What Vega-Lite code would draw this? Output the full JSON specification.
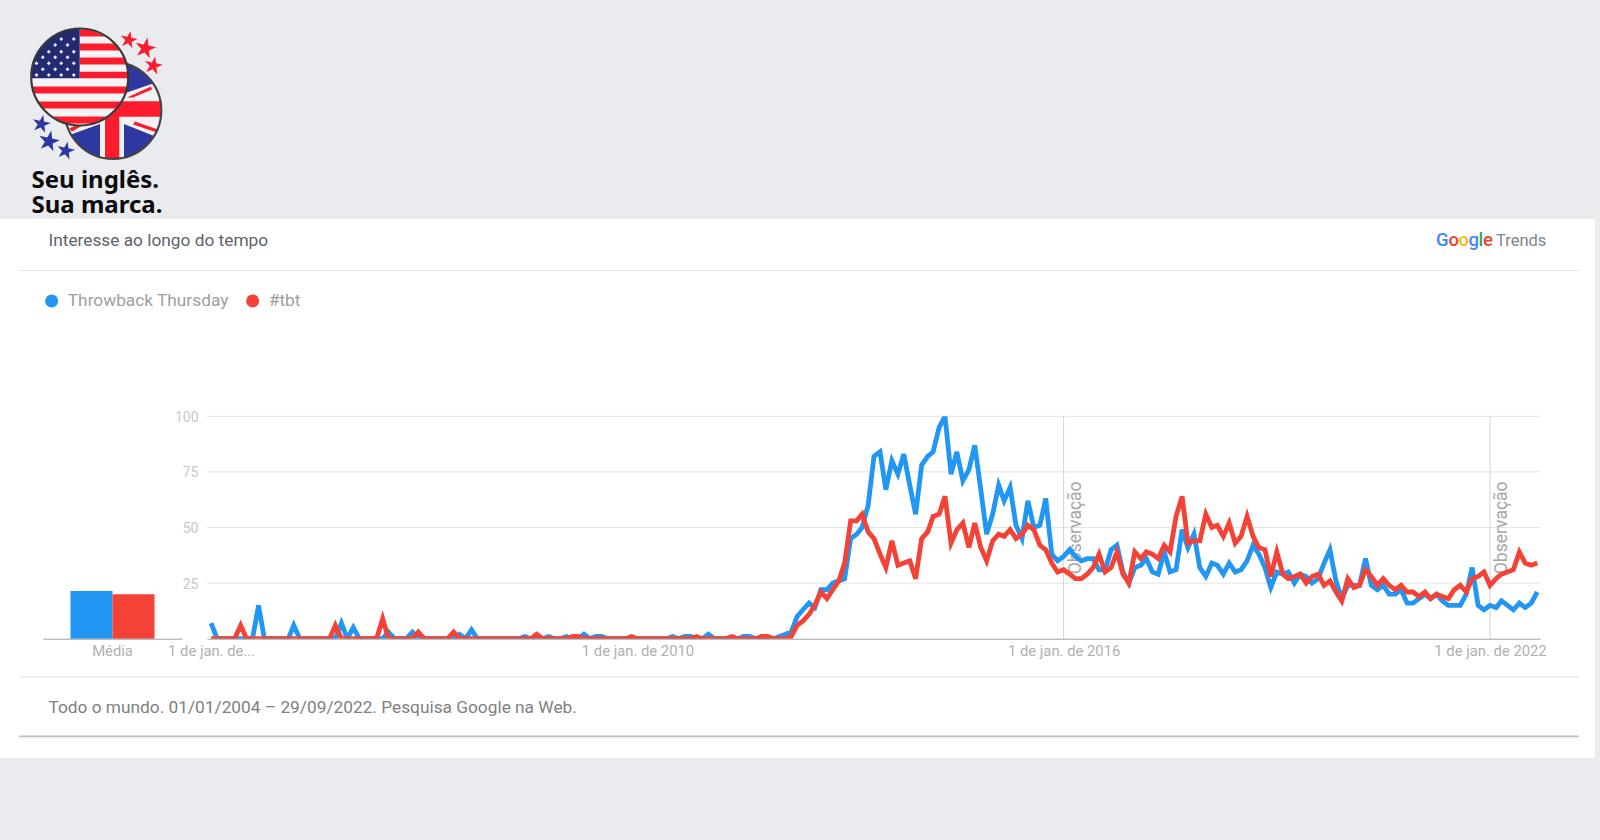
{"$schema":"https://vega.github.io/schema/vega-lite/v6.json","width":1333,"height":222.4,"autosize":{"type":"none"},"padding":{"left":207,"top":416.3,"right":60,"bottom":201.3},"background":"#e9ebef","config":{"view":{"stroke":null},"font":"Roboto"},"datasets":{"trends":[
{"d":"2004-01-01","a":7,"b":0},{"d":"2004-02-01","a":0,"b":0},{"d":"2004-03-01","a":0,"b":0},{"d":"2004-04-01","a":0,"b":0},{"d":"2004-05-01","a":0,"b":0},{"d":"2004-06-01","a":0,"b":6},{"d":"2004-07-01","a":0,"b":0},{"d":"2004-08-01","a":0,"b":0},{"d":"2004-09-01","a":15,"b":0},{"d":"2004-10-01","a":0,"b":0},{"d":"2004-11-01","a":0,"b":0},{"d":"2004-12-01","a":0,"b":0},
{"d":"2005-01-01","a":0,"b":0},{"d":"2005-02-01","a":0,"b":0},{"d":"2005-03-01","a":6,"b":0},{"d":"2005-04-01","a":0,"b":0},{"d":"2005-05-01","a":0,"b":0},{"d":"2005-06-01","a":0,"b":0},{"d":"2005-07-01","a":0,"b":0},{"d":"2005-08-01","a":0,"b":0},{"d":"2005-09-01","a":0,"b":0},{"d":"2005-10-01","a":0,"b":6},{"d":"2005-11-01","a":7,"b":0},{"d":"2005-12-01","a":0,"b":0},
{"d":"2006-01-01","a":5,"b":0},{"d":"2006-02-01","a":0,"b":0},{"d":"2006-03-01","a":0,"b":0},{"d":"2006-04-01","a":0,"b":0},{"d":"2006-05-01","a":0,"b":0},{"d":"2006-06-01","a":0,"b":9},{"d":"2006-07-01","a":3,"b":0},{"d":"2006-08-01","a":0,"b":0},{"d":"2006-09-01","a":0,"b":0},{"d":"2006-10-01","a":0,"b":0},{"d":"2006-11-01","a":3,"b":0},{"d":"2006-12-01","a":0,"b":3},
{"d":"2007-01-01","a":0,"b":0},{"d":"2007-02-01","a":0,"b":0},{"d":"2007-03-01","a":0,"b":0},{"d":"2007-04-01","a":0,"b":0},{"d":"2007-05-01","a":0,"b":0},{"d":"2007-06-01","a":0,"b":3},{"d":"2007-07-01","a":2,"b":0},{"d":"2007-08-01","a":0,"b":0},{"d":"2007-09-01","a":4,"b":0},{"d":"2007-10-01","a":0,"b":0},{"d":"2007-11-01","a":0,"b":0},{"d":"2007-12-01","a":0,"b":0},
{"d":"2008-01-01","a":0,"b":0},{"d":"2008-02-01","a":0,"b":0},{"d":"2008-03-01","a":0,"b":0},{"d":"2008-04-01","a":0,"b":0},{"d":"2008-05-01","a":0,"b":0},{"d":"2008-06-01","a":1,"b":0},{"d":"2008-07-01","a":0,"b":0},{"d":"2008-08-01","a":0,"b":2},{"d":"2008-09-01","a":0,"b":0},{"d":"2008-10-01","a":1,"b":0},{"d":"2008-11-01","a":0,"b":0},{"d":"2008-12-01","a":0,"b":0},
{"d":"2009-01-01","a":1,"b":0},{"d":"2009-02-01","a":0,"b":1},{"d":"2009-03-01","a":0,"b":1},{"d":"2009-04-01","a":2,"b":0},{"d":"2009-05-01","a":0,"b":0},{"d":"2009-06-01","a":1,"b":0},{"d":"2009-07-01","a":1,"b":0},{"d":"2009-08-01","a":0,"b":0},{"d":"2009-09-01","a":0,"b":0},{"d":"2009-10-01","a":0,"b":0},{"d":"2009-11-01","a":0,"b":0},{"d":"2009-12-01","a":0,"b":1},
{"d":"2010-01-01","a":0,"b":0},{"d":"2010-02-01","a":0,"b":0},{"d":"2010-03-01","a":0,"b":0},{"d":"2010-04-01","a":0,"b":0},{"d":"2010-05-01","a":0,"b":0},{"d":"2010-06-01","a":0,"b":0},{"d":"2010-07-01","a":1,"b":0},{"d":"2010-08-01","a":0,"b":0},{"d":"2010-09-01","a":1,"b":0},{"d":"2010-10-01","a":1,"b":0},{"d":"2010-11-01","a":0,"b":1},{"d":"2010-12-01","a":0,"b":0},
{"d":"2011-01-01","a":2,"b":0},{"d":"2011-02-01","a":0,"b":0},{"d":"2011-03-01","a":0,"b":0},{"d":"2011-04-01","a":0,"b":0},{"d":"2011-05-01","a":0,"b":1},{"d":"2011-06-01","a":0,"b":0},{"d":"2011-07-01","a":1,"b":0},{"d":"2011-08-01","a":1,"b":0},{"d":"2011-09-01","a":0,"b":0},{"d":"2011-10-01","a":0,"b":1},{"d":"2011-11-01","a":0,"b":1},{"d":"2011-12-01","a":0,"b":0},
{"d":"2012-01-01","a":1,"b":0},{"d":"2012-02-01","a":2,"b":0},{"d":"2012-03-01","a":3,"b":1},{"d":"2012-04-01","a":10,"b":6},{"d":"2012-05-01","a":13,"b":8},{"d":"2012-06-01","a":16,"b":11},{"d":"2012-07-01","a":14,"b":15},{"d":"2012-08-01","a":22,"b":21},{"d":"2012-09-01","a":22,"b":18},{"d":"2012-10-01","a":25,"b":22},{"d":"2012-11-01","a":26,"b":26},{"d":"2012-12-01","a":27,"b":34},
{"d":"2013-01-01","a":45,"b":53},{"d":"2013-02-01","a":47,"b":53},{"d":"2013-03-01","a":50,"b":56},{"d":"2013-04-01","a":60,"b":48},{"d":"2013-05-01","a":82,"b":45},{"d":"2013-06-01","a":84,"b":38},{"d":"2013-07-01","a":67,"b":32},{"d":"2013-08-01","a":80,"b":44},{"d":"2013-09-01","a":74,"b":33},{"d":"2013-10-01","a":83,"b":34},{"d":"2013-11-01","a":69,"b":35},{"d":"2013-12-01","a":56,"b":27},
{"d":"2014-01-01","a":78,"b":45},{"d":"2014-02-01","a":82,"b":48},{"d":"2014-03-01","a":84,"b":55},{"d":"2014-04-01","a":95,"b":56},{"d":"2014-05-01","a":100,"b":64},{"d":"2014-06-01","a":74,"b":43},{"d":"2014-07-01","a":84,"b":49},{"d":"2014-08-01","a":71,"b":52},{"d":"2014-09-01","a":76,"b":41},{"d":"2014-10-01","a":87,"b":52},{"d":"2014-11-01","a":67,"b":41},{"d":"2014-12-01","a":47,"b":35},
{"d":"2015-01-01","a":56,"b":44},{"d":"2015-02-01","a":69,"b":47},{"d":"2015-03-01","a":62,"b":46},{"d":"2015-04-01","a":68,"b":49},{"d":"2015-05-01","a":51,"b":45},{"d":"2015-06-01","a":45,"b":47},{"d":"2015-07-01","a":62,"b":51},{"d":"2015-08-01","a":50,"b":49},{"d":"2015-09-01","a":51,"b":42},{"d":"2015-10-01","a":63,"b":40},{"d":"2015-11-01","a":38,"b":34},{"d":"2015-12-01","a":35,"b":30},
{"d":"2016-01-01","a":37,"b":31},{"d":"2016-02-01","a":40,"b":29},{"d":"2016-03-01","a":37,"b":27},{"d":"2016-04-01","a":35,"b":27},{"d":"2016-05-01","a":36,"b":29},{"d":"2016-06-01","a":36,"b":32},{"d":"2016-07-01","a":31,"b":38},{"d":"2016-08-01","a":31,"b":30},{"d":"2016-09-01","a":40,"b":32},{"d":"2016-10-01","a":42,"b":39},{"d":"2016-11-01","a":30,"b":29},{"d":"2016-12-01","a":25,"b":25},
{"d":"2017-01-01","a":32,"b":39},{"d":"2017-02-01","a":33,"b":36},{"d":"2017-03-01","a":36,"b":39},{"d":"2017-04-01","a":30,"b":38},{"d":"2017-05-01","a":29,"b":36},{"d":"2017-06-01","a":39,"b":42},{"d":"2017-07-01","a":30,"b":39},{"d":"2017-08-01","a":31,"b":55},{"d":"2017-09-01","a":49,"b":64},{"d":"2017-10-01","a":41,"b":43},{"d":"2017-11-01","a":47,"b":44},{"d":"2017-12-01","a":32,"b":44},
{"d":"2018-01-01","a":28,"b":56},{"d":"2018-02-01","a":34,"b":50},{"d":"2018-03-01","a":33,"b":51},{"d":"2018-04-01","a":29,"b":46},{"d":"2018-05-01","a":34,"b":52},{"d":"2018-06-01","a":30,"b":43},{"d":"2018-07-01","a":31,"b":46},{"d":"2018-08-01","a":35,"b":55},{"d":"2018-09-01","a":42,"b":46},{"d":"2018-10-01","a":38,"b":41},{"d":"2018-11-01","a":32,"b":40},{"d":"2018-12-01","a":23,"b":28},
{"d":"2019-01-01","a":30,"b":39},{"d":"2019-02-01","a":29,"b":29},{"d":"2019-03-01","a":30,"b":27},{"d":"2019-04-01","a":25,"b":28},{"d":"2019-05-01","a":29,"b":29},{"d":"2019-06-01","a":28,"b":25},{"d":"2019-07-01","a":25,"b":28},{"d":"2019-08-01","a":27,"b":29},{"d":"2019-09-01","a":34,"b":24},{"d":"2019-10-01","a":40,"b":26},{"d":"2019-11-01","a":26,"b":21},{"d":"2019-12-01","a":18,"b":17},
{"d":"2020-01-01","a":24,"b":27},{"d":"2020-02-01","a":24,"b":23},{"d":"2020-03-01","a":24,"b":24},{"d":"2020-04-01","a":36,"b":31},{"d":"2020-05-01","a":24,"b":28},{"d":"2020-06-01","a":22,"b":24},{"d":"2020-07-01","a":24,"b":27},{"d":"2020-08-01","a":20,"b":24},{"d":"2020-09-01","a":20,"b":22},{"d":"2020-10-01","a":22,"b":24},{"d":"2020-11-01","a":16,"b":21},{"d":"2020-12-01","a":16,"b":21},
{"d":"2021-01-01","a":18,"b":19},{"d":"2021-02-01","a":20,"b":21},{"d":"2021-03-01","a":18,"b":18},{"d":"2021-04-01","a":20,"b":20},{"d":"2021-05-01","a":17,"b":19},{"d":"2021-06-01","a":15,"b":18},{"d":"2021-07-01","a":15,"b":22},{"d":"2021-08-01","a":15,"b":24},{"d":"2021-09-01","a":20,"b":21},{"d":"2021-10-01","a":32,"b":27},{"d":"2021-11-01","a":15,"b":28},{"d":"2021-12-01","a":13,"b":30},
{"d":"2022-01-01","a":15,"b":24},{"d":"2022-02-01","a":14,"b":27},{"d":"2022-03-01","a":17,"b":29},{"d":"2022-04-01","a":15,"b":30},{"d":"2022-05-01","a":13,"b":31},{"d":"2022-06-01","a":16,"b":39},{"d":"2022-07-01","a":14,"b":34},{"d":"2022-08-01","a":16,"b":33},{"d":"2022-09-01","a":21,"b":34}
]},"layer":[
{"data":{"values":[{"k":"panel"}]},"mark":{"type":"rect","color":"#ffffff"},"encoding":{"x":{"value":-207},"x2":{"value":1388},"y":{"value":-197.3},"y2":{"value":341.5}}},
{"data":{"values":[{"k":"line"}]},"mark":{"type":"rule","color":"#e4e4e4","strokeWidth":1},"encoding":{"x":{"value":-188},"x2":{"value":1372},"y":{"value":-145.8}}},
{"data":{"values":[{"k":"line"}]},"mark":{"type":"rule","color":"#ececec","strokeWidth":1.5},"encoding":{"x":{"value":-188},"x2":{"value":1372},"y":{"value":260.5}}},
{"data":{"values":[{"k":"line"}]},"mark":{"type":"rule","color":"#efefef","strokeWidth":2},"encoding":{"x":{"value":-188},"x2":{"value":1372},"y":{"value":321.5}}},
{"data":{"values":[{"k":"line"}]},"mark":{"type":"rule","color":"#bdbdbd","strokeWidth":1.5},"encoding":{"x":{"value":-188},"x2":{"value":1372},"y":{"value":320}}},
{"data":{"values":[{"t":"Interesse ao longo do tempo"}]},"mark":{"type":"text","align":"left","baseline":"alphabetic","font":"Roboto","fontSize":17.3,"color":"#5f6368"},"encoding":{"text":{"field":"t"},"x":{"value":-158.5},"y":{"value":-170.5}}},
{"data":{"values":[{"t":"Todo o mundo. 01/01/2004 – 29/09/2022. Pesquisa Google na Web."}]},"mark":{"type":"text","align":"left","baseline":"alphabetic","font":"Roboto","fontSize":17.3,"color":"#808080"},"encoding":{"text":{"field":"t"},"x":{"value":-158.5},"y":{"value":297}}},
{"data":{"values":[{"t":"G"}]},"mark":{"type":"text","align":"left","baseline":"alphabetic","font":"Roboto","fontSize":18.5,"fontWeight":500,"color":"#4285f4"},"encoding":{"text":{"field":"t"},"x":{"value":1229},"y":{"value":-170.3}}},
{"data":{"values":[{"t":"o"}]},"mark":{"type":"text","align":"left","baseline":"alphabetic","font":"Roboto","fontSize":18.5,"fontWeight":500,"color":"#ea4335"},"encoding":{"text":{"field":"t"},"x":{"value":1241.5},"y":{"value":-170.3}}},
{"data":{"values":[{"t":"o"}]},"mark":{"type":"text","align":"left","baseline":"alphabetic","font":"Roboto","fontSize":18.5,"fontWeight":500,"color":"#fbbc05"},"encoding":{"text":{"field":"t"},"x":{"value":1251.5},"y":{"value":-170.3}}},
{"data":{"values":[{"t":"g"}]},"mark":{"type":"text","align":"left","baseline":"alphabetic","font":"Roboto","fontSize":18.5,"fontWeight":500,"color":"#4285f4"},"encoding":{"text":{"field":"t"},"x":{"value":1261.5},"y":{"value":-170.3}}},
{"data":{"values":[{"t":"l"}]},"mark":{"type":"text","align":"left","baseline":"alphabetic","font":"Roboto","fontSize":18.5,"fontWeight":500,"color":"#34a853"},"encoding":{"text":{"field":"t"},"x":{"value":1271.5},"y":{"value":-170.3}}},
{"data":{"values":[{"t":"e"}]},"mark":{"type":"text","align":"left","baseline":"alphabetic","font":"Roboto","fontSize":18.5,"fontWeight":500,"color":"#ea4335"},"encoding":{"text":{"field":"t"},"x":{"value":1276},"y":{"value":-170.3}}},
{"data":{"values":[{"t":"Trends"}]},"mark":{"type":"text","align":"left","baseline":"alphabetic","font":"Roboto","fontSize":16.5,"color":"#80868b"},"encoding":{"text":{"field":"t"},"x":{"value":1289},"y":{"value":-170.3}}},
{"data":{"values":[{"k":"disc"}]},"mark":{"type":"point","shape":"circle","size":9332,"filled":true,"color":"#f2f2f5","opacity":1},"encoding":{"x":{"value":-94},"y":{"value":-305.8}}},
{"data":{"values":[{"k":"uk"}]},"mark":{"type":"point","shape":"M11,13.5L11,47A48.3,48.3 0 0 0 41,25.5ZM-13,13.5L-13,46.5A48.3,48.3 0 0 1 -42,24ZM11,-17L40,-27A48.3,48.3 0 0 0 11,-47Z","size":4,"filled":true,"color":"#2f37a0","opacity":1},"encoding":{"x":{"value":-94},"y":{"value":-305.8}}},
{"data":{"values":[{"k":"uk"}]},"mark":{"type":"point","shape":"M-8,-47.6L6.3,-47.8L6.3,-9.3L47.4,-9.3L47.9,6.3L6.3,6.3L6.3,47.9L-8,47.6L-8,6.3L-47.9,6.3L-47.4,-9.3L-8,-9.3ZM22,11L45,19L44,22L20,14ZM14,-13L38,-24L39,-21L20,-13ZM-27,13L-41,21L-44,18L-33,13Z","size":4,"filled":true,"color":"#fb1c2d","opacity":1},"encoding":{"x":{"value":-94},"y":{"value":-305.8}}},
{"data":{"values":[{"k":"ring"}]},"mark":{"type":"point","shape":"circle","size":9332,"filled":false,"color":"#444444","strokeWidth":2.2,"opacity":1},"encoding":{"x":{"value":-94},"y":{"value":-305.8}}},
{"data":{"values":[{"k":"disc"}]},"mark":{"type":"point","shape":"circle","size":9409,"filled":true,"color":"#f4f4f6","opacity":1},"encoding":{"x":{"value":-127.3},"y":{"value":-339.3}}},
{"data":{"values":[{"k":"us"}]},"mark":{"type":"point","shape":"M0,-47.6L9.3,-47.6L26.8,-40.4L0,-40.4ZM0,-33.6L35,-33.6L40.7,-26.4L0,-26.4ZM0,-19.6L44.4,-19.6L46.9,-12.4L0,-12.4ZM0,-5.3L48.2,-5.3L48.45,1.3L0,1.3ZM-47.6,9.4L47.6,9.4L45.6,16.6L-45.6,16.6ZM-41.9,24.4L41.9,24.4L36.8,31.6L-36.8,31.6ZM-28.3,39.4L28.3,39.4L13.4,46.6L-13.4,46.6Z","size":4,"filled":true,"color":"#fb1c2d","opacity":1},"encoding":{"x":{"value":-127.3},"y":{"value":-339.3}}},
{"data":{"values":[{"k":"us"}]},"mark":{"type":"point","shape":"M0,-48.5L0,1.3L-48.48,1.3A48.5,48.5 0 0 1 0,-48.5Z","size":4,"filled":true,"color":"#232a70","opacity":1},"encoding":{"x":{"value":-127.3},"y":{"value":-339.3}}},
{"data":{"values":[{"k":"us"}]},"mark":{"type":"point","shape":"M-5.9,-40l2,2l-2,2l-2,-2zM-18.5,-40l2,2l-2,2l-2,-2zM-12.2,-34l2,2l-2,2l-2,-2zM-24.5,-34l2,2l-2,2l-2,-2zM-5.9,-27.3l2,2l-2,2l-2,-2zM-18.5,-27.3l2,2l-2,2l-2,-2zM-30.9,-27.3l2,2l-2,2l-2,-2zM-12.2,-21.7l2,2l-2,2l-2,-2zM-24.5,-21.7l2,2l-2,2l-2,-2zM-36.9,-21.7l2,2l-2,2l-2,-2zM-5.9,-15.7l2,2l-2,2l-2,-2zM-18.5,-15.7l2,2l-2,2l-2,-2zM-30.9,-15.7l2,2l-2,2l-2,-2zM-43.2,-15.7l2,2l-2,2l-2,-2zM-12.2,-9.7l2,2l-2,2l-2,-2zM-24.5,-9.7l2,2l-2,2l-2,-2zM-36.9,-9.7l2,2l-2,2l-2,-2zM-5.9,-4l2,2l-2,2l-2,-2zM-18.5,-4l2,2l-2,2l-2,-2zM-30.9,-4l2,2l-2,2l-2,-2zM-43.2,-4l2,2l-2,2l-2,-2z","size":4,"filled":true,"color":"#e4e6f2","opacity":1},"encoding":{"x":{"value":-127.3},"y":{"value":-339.3}}},
{"data":{"values":[{"k":"ring"}]},"mark":{"type":"point","shape":"circle","size":9409,"filled":false,"color":"#3a3a3a","strokeWidth":2.2,"opacity":1},"encoding":{"x":{"value":-127.3},"y":{"value":-339.3}}},
{"data":{"values":[{"k":"star"}]},"mark":{"type":"point","shape":"M0,-1L.225,-.309L.951,-.309L.363,.118L.588,.809L0,.382L-.588,.809L-.363,.118L-.951,-.309L-.225,-.309Z","size":324,"angle":12,"filled":true,"color":"#fb1c2d","opacity":1},"encoding":{"x":{"value":-78.3},"y":{"value":-376.3}}},
{"data":{"values":[{"k":"star"}]},"mark":{"type":"point","shape":"M0,-1L.225,-.309L.951,-.309L.363,.118L.588,.809L0,.382L-.588,.809L-.363,.118L-.951,-.309L-.225,-.309Z","size":484,"angle":12,"filled":true,"color":"#fb1c2d","opacity":1},"encoding":{"x":{"value":-61.7},"y":{"value":-368}}},
{"data":{"values":[{"k":"star"}]},"mark":{"type":"point","shape":"M0,-1L.225,-.309L.951,-.309L.363,.118L.588,.809L0,.382L-.588,.809L-.363,.118L-.951,-.309L-.225,-.309Z","size":361,"angle":12,"filled":true,"color":"#fb1c2d","opacity":1},"encoding":{"x":{"value":-53.7},"y":{"value":-350.6}}},
{"data":{"values":[{"k":"star"}]},"mark":{"type":"point","shape":"M0,-1L.225,-.309L.951,-.309L.363,.118L.588,.809L0,.382L-.588,.809L-.363,.118L-.951,-.309L-.225,-.309Z","size":361,"angle":12,"filled":true,"color":"#2f37a0","opacity":1},"encoding":{"x":{"value":-165.7},"y":{"value":-292.3}}},
{"data":{"values":[{"k":"star"}]},"mark":{"type":"point","shape":"M0,-1L.225,-.309L.951,-.309L.363,.118L.588,.809L0,.382L-.588,.809L-.363,.118L-.951,-.309L-.225,-.309Z","size":484,"angle":12,"filled":true,"color":"#2f37a0","opacity":1},"encoding":{"x":{"value":-158},"y":{"value":-275}}},
{"data":{"values":[{"k":"star"}]},"mark":{"type":"point","shape":"M0,-1L.225,-.309L.951,-.309L.363,.118L.588,.809L0,.382L-.588,.809L-.363,.118L-.951,-.309L-.225,-.309Z","size":361,"angle":12,"filled":true,"color":"#2f37a0","opacity":1},"encoding":{"x":{"value":-141.3},"y":{"value":-265.6}}},
{"data":{"values":[{"t":["Seu inglês.","Sua marca."]}]},"mark":{"type":"text","align":"left","baseline":"alphabetic","lineHeight":24.8,"font":"Noto Sans","fontWeight":700,"fontSize":24,"color":"#0b0b0b"},"encoding":{"text":{"field":"t"},"x":{"value":-175.5},"y":{"value":-228.3}}},
{"data":{"values":[{"g":25},{"g":50},{"g":75},{"g":100}]},"mark":{"type":"rule","color":"#e3e3e3","strokeWidth":1},"encoding":{"y":{"field":"g","type":"quantitative","scale":{"domain":[0,100]},"axis":{"values":[25,50,75,100],"title":null,"grid":false,"domain":false,"ticks":false,"labelColor":"#c8c8c8","labelFontSize":14,"labelFont":"Roboto","labelPadding":9,"labelOffset":1,"zindex":1}}}},
{"data":{"values":[{"label":"Média","series":"Throwback Thursday","media":21.5},{"label":"Média","series":"#tbt","media":20}]},"mark":{"type":"bar"},"encoding":{"x":{"field":"label","type":"nominal","scale":{"domain":["Média"],"range":[-164,-25],"paddingInner":0,"paddingOuter":0.327},"axis":{"orient":"bottom","title":null,"labelAngle":0,"labelColor":"#b0b0b0","labelFontSize":14.8,"labelFont":"Roboto","ticks":false,"labelPadding":4.5,"domainColor":"#9e9e9e","zindex":1}},"xOffset":{"field":"series","scale":{"domain":["Throwback Thursday","#tbt"]}},"y":{"field":"media","type":"quantitative"},"color":{"field":"series","type":"nominal","scale":{"domain":["Throwback Thursday","#tbt"],"range":["#2196f3","#f44336"]},"legend":{"title":null,"orient":"none","legendX":-164,"legendY":-124,"direction":"horizontal","symbolType":"circle","symbolSize":170,"symbolStrokeWidth":0,"symbolOpacity":1,"labelFont":"Roboto","labelFontSize":17.3,"labelLimit":240,"labelColor":"#9e9e9e","labelOffset":7.5,"columnPadding":15}}}},
{"data":{"values":[{"d":"2016-01-01"},{"d":"2022-01-01"}]},"mark":{"type":"rule","color":"#d4d4d4","strokeWidth":1},"encoding":{"x":{"field":"d","type":"temporal","scale":{"type":"utc","domain":["2003-12-11","2022-09-15"]},"axis":null}}},
{"data":{"values":[{"d":"2016-01-01","t":"Observação"},{"d":"2022-01-01","t":"Observação"}]},"mark":{"type":"text","angle":270,"align":"left","baseline":"top","dy":3,"font":"Roboto","fontSize":17.5,"color":"#a6a6a6"},"encoding":{"x":{"field":"d","type":"temporal","scale":{"type":"utc","domain":["2003-12-11","2022-09-15"]},"axis":null},"y":{"datum":29},"text":{"field":"t"}}},
{"data":{"name":"trends"},"transform":[{"fold":["a","b"],"as":["k","value"]},{"lookup":"k","from":{"data":{"values":[{"k":"a","series":"Throwback Thursday"},{"k":"b","series":"#tbt"}]},"key":"k","fields":["series"]}}],"mark":{"type":"line","strokeWidth":4.8,"strokeJoin":"miter","clip":true},"encoding":{"x":{"field":"d","type":"temporal","scale":{"type":"utc","domain":["2003-12-11","2022-09-15"]},"axis":{"orient":"bottom","values":[{"year":2004,"month":1,"date":1,"utc":true},{"year":2010,"month":1,"date":1,"utc":true},{"year":2016,"month":1,"date":1,"utc":true},{"year":2022,"month":1,"date":1,"utc":true}],"labelExpr":"utcyear(datum.value)==2004?'1 de jan. de...':'1 de jan. de '+utcyear(datum.value)","title":null,"grid":false,"ticks":false,"labelColor":"#b0b0b0","labelFontSize":14.8,"labelFont":"Roboto","labelPadding":5,"labelOverlap":false,"labelFlush":false,"domainColor":"#9e9e9e","zindex":1}},"y":{"field":"value","type":"quantitative"},"color":{"field":"series","type":"nominal","sort":["Throwback Thursday","#tbt"],"legend":{"title":null,"orient":"none","legendX":-164,"legendY":-124,"direction":"horizontal","symbolType":"circle","symbolSize":170,"symbolStrokeWidth":0,"symbolOpacity":1,"labelFont":"Roboto","labelFontSize":17.3,"labelLimit":240,"labelColor":"#9e9e9e","labelOffset":7.5,"columnPadding":15}}}}
],"resolve":{"scale":{"x":"independent"},"axis":{"x":"independent"}}}
